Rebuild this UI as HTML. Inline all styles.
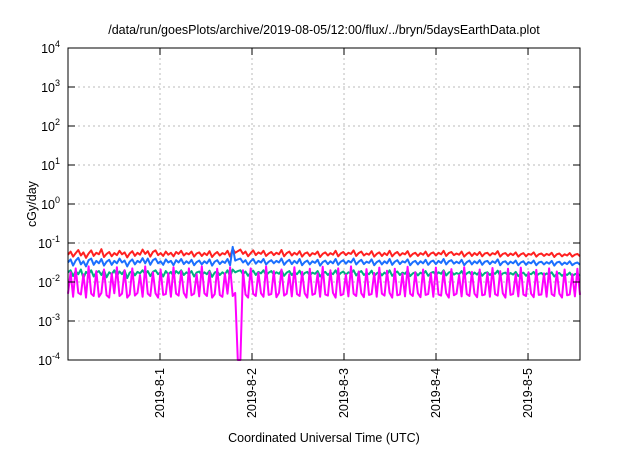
<!DOCTYPE html>
<html><head><meta charset="utf-8"><style>
body{margin:0;background:#fff;font-family:"Liberation Sans",sans-serif}
svg text{font-family:"Liberation Sans",sans-serif;fill:#000}
</style></head><body>
<svg width="640" height="448" viewBox="0 0 640 448">
<text x="324" y="34" font-size="12.5" text-anchor="middle">/data/run/goesPlots/archive/2019-08-05/12:00/flux/../bryn/5daysEarthData.plot</text>
<g id="grid"></g>
<g id="series"></g>
<rect x="68" y="48" width="512" height="312" fill="none" stroke="#000" stroke-width="1"/>
<g id="axes"></g>
<text x="36" y="204" font-size="12.5" text-anchor="middle" transform="rotate(-90 36 204)">cGy/day</text>
<text x="324" y="442" font-size="12.5" text-anchor="middle">Coordinated Universal Time (UTC)</text>
</svg>
<script>
const yTickExps=[4,3,2,1,0,-1,-2,-3,-4];
const xTickLabels=["2019-8-1","2019-8-2","2019-8-3","2019-8-4","2019-8-5"];
const xTickDays=[1,2,3,4,5];
const tSpanDays=5.565;
// values are -log10(cGy/day) * 100
const redH=[130,122,135,126,118,132,124,138,127,119,133,125,129,116,136,128,123,134,126,131,
120,129,124,137,127,121,133,125,130,117,128,121,135,123,119,131,126,133,122,130,
125,134,123,128,120,132,126,129,122,135,127,124,133,126,131,121,136,128,123,132,
126,129,120,135,115,125,121,117,128,122,134,126,119,131,124,128,120,133,127,123,
131,125,129,118,134,126,122,132,125,130,121,135,127,124,133,126,129,122,136,128,
124,132,126,130,120,134,127,123,131,125,128,119,133,126,122,132,127,130,121,135,
128,124,133,126,131,120,134,127,123,132,126,129,121,135,128,125,133,126,130,122,
134,127,124,132,125,129,120,133,126,123,131,127,130,122,135,128,124,133,126,131,
123,134,127,125,132,126,129,121,135,128,126,133,127,131,124,135,129,126,134,128,
130,124,135,129,127,133,128,131,125,136,129,127,134,129,132,126,135,130,128,134];
const greenH=[175,170,185,172,180,168,190,174,180,170,186,176,172,182,170,188,175,180,170,184,
173,180,170,190,176,172,183,174,178,170,180,172,185,174,170,180,175,186,172,180,
174,184,172,178,170,182,175,180,172,186,176,173,182,175,180,171,187,176,173,182,
175,180,170,186,168,175,172,170,180,173,184,176,171,182,174,178,170,183,176,172,
181,175,179,170,184,176,172,182,175,180,171,185,177,174,183,176,179,172,186,178,
174,182,176,180,170,184,177,173,181,175,178,170,183,176,172,182,177,180,171,185,
178,174,183,176,181,170,184,177,173,182,176,179,171,185,178,175,183,176,180,172,
184,177,174,182,175,179,170,183,176,173,181,177,180,172,185,178,174,183,176,181,
173,184,177,175,182,176,179,171,185,178,176,183,177,181,174,185,179,176,184,178,
180,174,185,179,177,183,178,181,175,186,179,177,184,179,182,176,185,180,178,184];
const blueH=[150,142,158,145,138,155,147,160,144,140,156,146,152,141,158,148,143,156,146,152,
140,150,145,160,148,142,155,146,150,139,152,140,156,144,140,152,147,156,142,150,
146,157,144,150,141,154,147,152,143,157,149,145,155,147,152,142,158,148,144,154,
147,151,141,157,110,145,142,140,150,144,156,147,141,153,146,150,141,155,148,144,
152,146,150,140,156,148,143,154,146,152,141,157,149,145,155,147,151,143,158,149,
145,154,147,152,141,156,148,144,153,146,150,140,155,148,143,154,148,151,142,157,
149,145,155,147,152,141,156,148,144,154,147,150,142,157,149,146,155,147,152,143,
156,148,145,154,146,151,141,155,147,144,153,148,152,143,157,149,145,155,147,152,
144,156,148,146,154,147,151,142,157,149,147,155,148,152,145,157,150,147,156,149,
152,145,157,150,148,155,149,153,146,158,150,148,156,150,154,147,157,152,150,156];
const magentaH=[230,175,238,165,228,232,180,240,160,230,236,172,238,228,168,234,240,178,229,162,
236,230,170,240,232,165,235,228,182,238,160,230,236,175,229,240,168,233,231,178,
238,162,230,235,172,228,240,165,234,230,180,237,160,229,236,174,240,231,166,233,
238,178,230,162,236,228,500,500,170,232,240,165,230,236,176,229,238,160,233,231,
172,239,228,168,235,230,180,237,162,231,236,174,229,240,166,233,230,178,238,161,
232,235,170,228,240,165,234,231,181,237,160,230,236,173,229,239,167,233,231,177,
238,163,230,235,171,228,240,166,234,232,179,237,161,230,236,175,229,239,168,233,
231,178,238,163,232,235,172,229,240,167,234,230,182,237,162,231,236,174,230,239,
168,234,232,177,238,164,231,235,172,229,240,166,233,231,180,237,163,232,236,175,
230,239,169,233,232,178,238,165,231,236,173,230,240,168,234,232,180,237,166,233];
const L=68,R=580,T=48,B=360,yMin=-4,yMax=4;
const ns="http://www.w3.org/2000/svg";
function xS(d){return L+(d/tSpanDays)*(R-L);}
function yS(v){const c=Math.max(yMin,Math.min(yMax,v));return B-(c-yMin)/(yMax-yMin)*(B-T);}
function mk(tag,attrs,parent){const e=document.createElementNS(ns,tag);for(const k in attrs)e.setAttribute(k,attrs[k]);parent.appendChild(e);return e;}
const grid=document.getElementById('grid'),axes=document.getElementById('axes'),ser=document.getElementById('series');
yTickExps.forEach(ex=>{const y=yS(ex);
 if(ex>yMin&&ex<yMax){const g=mk('line',{x1:L,x2:R,y1:y,y2:y,stroke:'#bbb','stroke-dasharray':'2,3'},grid);
 
 }
 const t1=mk('line',{x1:L,x2:L+7,y1:y,y2:y,stroke:'#000'},axes);
 
 
 mk('line',{x1:R-7,x2:R,y1:y,y2:y,stroke:'#000'},axes);
 const tx=mk('text',{x:60,y:y+5,'font-size':'12.5','text-anchor':'end'},axes);
 
 
 tx.textContent='10';
 const sp=mk('tspan',{dy:'-6','font-size':'9'},tx);sp.textContent=String(ex);
});
xTickDays.forEach((d,i)=>{const x=xS(d);
 const g=mk('line',{x1:x,x2:x,y1:T,y2:B,stroke:'#bbb','stroke-dasharray':'2,3'},grid);
 
 
 mk('line',{x1:x,x2:x,y1:B-7,y2:B,stroke:'#000'},axes);
 mk('line',{x1:x,x2:x,y1:T,y2:T+7,stroke:'#000'},axes);
 const tx=mk('text',{x:x+4,y:B+8,'font-size':'12.5','text-anchor':'end',transform:`rotate(-90 ${x+4} ${B+8})`},axes);
 
 
 tx.textContent=xTickLabels[i];
});
function draw(arr,color,name){const n=arr.length;
 const pts=arr.map((v,i)=>xS(i*tSpanDays/(n-1)).toFixed(1)+','+yS(-v/100).toFixed(1)).join(' ');
 const p=mk('polyline',{points:pts,fill:'none',stroke:color,'stroke-width':'2','stroke-linejoin':'round'},ser);
 
 }
draw(redH,'#ff2020','series-red');
draw(greenH,'#00b080','series-green');
draw(blueH,'#1a6fff','series-blue');
draw(magentaH,'#ff00ff','series-magenta');
</script>
</body></html>
